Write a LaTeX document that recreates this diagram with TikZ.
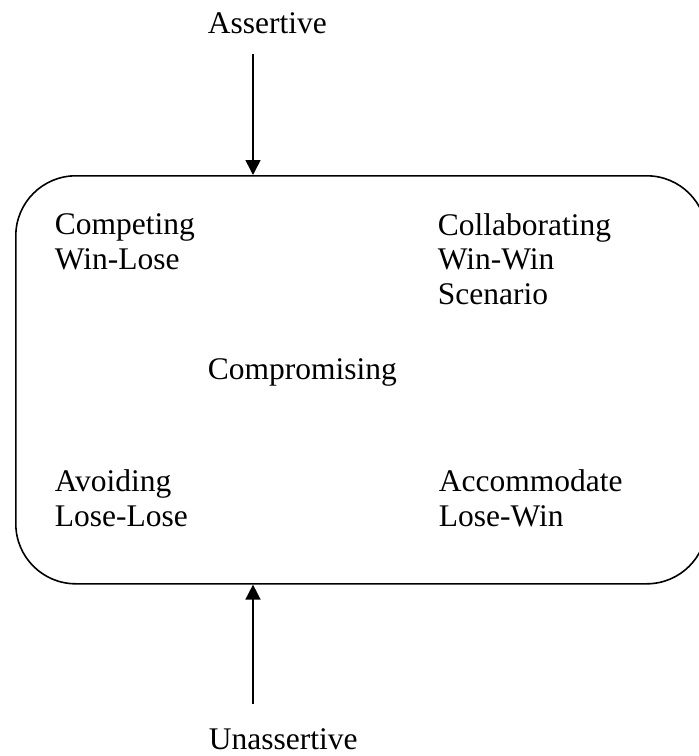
\documentclass[tikz,border=0pt]{standalone}
\usepackage{fontspec}
\setmainfont{Liberation Serif}
\usetikzlibrary{positioning, arrows.meta}

\tikzset{
  lbl/.style={font=\fontsize{31.5}{34.5}\selectfont, inner sep=0pt, align=left, anchor=base west},
  tip/.style={-{Triangle[width=15pt,length=15pt]}}
}

\begin{document}
\begin{tikzpicture}[x=1pt, y=-1pt, line width=1.6pt]
    \useasboundingbox (0,0) rectangle (699,756);

    \node[draw, rounded corners=60pt, minimum width=691pt, minimum height=408pt, anchor=north west, inner sep=0pt] (grid) at (15,175) {};

    % multi-line labels sit on the baseline of their last line
    \node[lbl] (assert) at (207,33) {Assertive};
    \node[lbl] (compete) at (54,269) {Competing\\Win-Lose};
    \node[lbl] (collab) at (437,304) {Collaborating\\Win-Win\\Scenario};
    \node[lbl] (comprom) at (207,379) {Compromising};
    \node[lbl] (avoid) at (54,526) {Avoiding\\Lose-Lose};
    \node[lbl] (accom) at (438,526) {Accommodate\\Lose-Win};
    \node[lbl] (unassert) at (208,749) {Unassertive};

    \coordinate (atop) at (253,54);
    \coordinate (abot) at (253,704);
    \draw[tip] (atop) -- (atop |- grid.north);
    \draw[tip] (abot) -- (abot |- grid.south);
\end{tikzpicture}
\end{document}
